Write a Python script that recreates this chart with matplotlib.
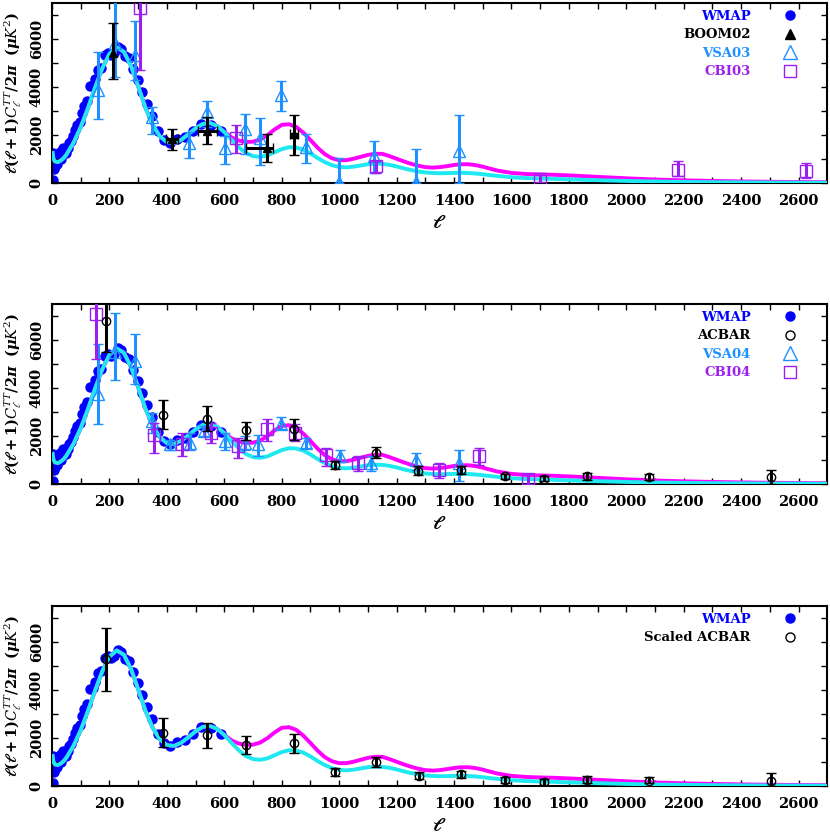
import matplotlib
matplotlib.use("Agg")
import matplotlib.pyplot as plt
from matplotlib.lines import Line2D
import numpy as np

plt.rcParams['font.family'] = 'DejaVu Serif'
plt.rcParams['mathtext.fontset'] = 'dejavuserif'

# ---- theory curves ----
l_model = [2, 5, 10, 20, 30, 40, 50, 75, 100, 125, 150, 175, 200, 225, 250, 275, 300,
           325, 350, 375, 400, 425, 450, 475, 500, 525, 550, 575, 600, 625, 650, 675,
           700, 725, 750, 775, 800, 825, 850, 875, 900, 925, 950, 975, 1000, 1025, 1050,
           1075, 1100, 1125, 1150, 1175, 1200, 1225, 1250, 1275, 1300, 1325, 1350, 1375,
           1400, 1425, 1450, 1475, 1500, 1550, 1600, 1650, 1700, 1750, 1800, 1900, 2000,
           2100, 2200, 2300, 2400, 2500, 2600, 2700]
cl_cyan = [1250, 1000, 900, 870, 930, 1030, 1180, 1680, 2330, 3120, 3980, 4780, 5380, 5650,
           5470, 4880, 4030, 3150, 2440, 1950, 1700, 1670, 1800, 2030, 2280, 2460, 2500,
           2380, 2120, 1800, 1490, 1250, 1120, 1090, 1150, 1280, 1410, 1490, 1480, 1390,
           1230, 1040, 870, 740, 670, 650, 680, 730, 780, 805, 795, 755, 690, 610, 540,
           480, 440, 415, 405, 410, 420, 425, 415, 395, 365, 295, 240, 205, 185, 170, 150,
           115, 85, 60, 45, 33, 25, 18, 14, 10]
cl_magenta = [1250, 1000, 900, 870, 930, 1030, 1180, 1680, 2330, 3120, 3980, 4780, 5380, 5650,
              5470, 4880, 4030, 3150, 2440, 1950, 1700, 1670, 1800, 2030, 2280, 2460, 2500,
              2380, 2130, 1900, 1770, 1710, 1720, 1810, 1990, 2230, 2420, 2450, 2340, 2100,
              1790, 1470, 1200, 1030, 950, 950, 1010, 1090, 1170, 1215, 1215, 1120, 1010,
              900, 800, 720, 660, 640, 660, 700, 750, 780, 780, 745, 680, 520, 420, 375,
              355, 340, 315, 255, 195, 145, 110, 85, 65, 50, 40, 32]

# ---- WMAP binned points ----
wmap_l = [2, 3, 4, 5, 6, 7, 8, 9, 10, 11, 12, 14, 16, 18, 21, 24, 27, 30, 34, 38, 43, 48,
          54, 60, 67, 74, 81, 88, 96, 104, 113, 122, 131, 141, 151, 161, 172, 183, 194,
          205, 217, 229, 241, 254, 268, 283, 298, 314, 331, 349, 369, 390, 412, 436, 462,
          490, 520, 553, 590]
wmap_cl = [123, 611, 756, 1257, 924, 1100, 600, 1000, 700, 900, 800, 950, 1000, 800, 1050,
           1100, 1300, 1000, 1300, 1450, 1350, 1250, 1450, 1650, 1750, 1950, 2200, 2400,
           2550, 2900, 3200, 3400, 4050, 4100, 4350, 4700, 4800, 5350, 5400, 5350, 5400,
           5650, 5600, 5300, 5200, 4750, 4300, 3800, 3300, 2800, 2150, 1800, 1650, 1850,
           1900, 2150, 2450, 2400, 2150]

# ---- panel 1 ----
boom_l = [213, 418, 540, 747, 843]
boom_cl = [5400, 1850, 2150, 1470, 2060]
boom_lo = [4350, 1360, 1640, 880, 1160]
boom_hi = [6660, 2240, 2740, 2030, 2850]
boom_l_lo = [213, 398, 510, 677, 828]
boom_l_hi = [213, 440, 575, 770, 858]

vsa03_l = [160, 219, 289, 347, 477, 538, 603, 671, 726, 797, 886, 999, 1123, 1268, 1416]
vsa03_cl = [3860, 5830, 5330, 2735, 1680, 2945, 1470, 2245, 1890, 3650, 1500, 30, 1120, 30, 1330]
vsa03_lo = [2665, 4400, 4280, 2060, 1050, 2340, 800, 1190, 740, 3015, 840, 0, 420, 0, 0]
vsa03_hi = [5470, 7900, 6730, 3155, 2105, 3435, 1965, 2875, 2705, 4235, 2035, 1050, 1755, 1405, 2850]

cbi03_l = [306, 640, 1129, 1700, 2179, 2625]
cbi03_cl = [7290, 1890, 700, 150, 560, 490]
cbi03_lo = [4700, 1260, 420, 20, 310, 190]
cbi03_hi = [7900, 2425, 910, 350, 910, 820]

# ---- panel 2 ----
acbar_l = [188, 387, 538, 677, 842, 984, 1127, 1276, 1423, 1578, 1712, 1863, 2078, 2503]
acbar_cl = [6790, 2870, 2690, 2240, 2300, 810, 1295, 556, 597, 320, 222, 320, 292, 278]
acbar_lo = [5500, 2270, 2200, 1850, 1825, 625, 1085, 390, 430, 210, 125, 180, 160, 0]
acbar_hi = [7900, 3480, 3245, 2590, 2690, 945, 1545, 735, 765, 430, 320, 460, 420, 570]

vsa04_l = [161, 221, 289, 347, 410, 480, 529, 603, 671, 718, 797, 883, 1002, 1112, 1268, 1417]
vsa04_cl = [3730, 5500, 5120, 2615, 1645, 1710, 2200, 1780, 1710, 1645, 2480, 1710, 1155, 880, 1015, 880]
vsa04_lo = [2480, 4330, 4150, 2130, 1430, 1435, 1990, 1435, 1435, 1155, 2270, 1500, 905, 530, 600, 110]
vsa04_hi = [5820, 7140, 6265, 2965, 1850, 2130, 2410, 2130, 1990, 2060, 2800, 1920, 1405, 1155, 1295, 1405]

cbi04_l = [153, 355, 451, 553, 648, 747, 845, 955, 1066, 1347, 1486, 1657]
cbi04_cl = [7070, 2060, 1645, 2130, 1575, 2270, 2130, 1225, 880, 600, 1155, 210]
cbi04_lo = [5190, 1295, 1155, 1710, 1085, 1780, 1780, 740, 530, 250, 805, 0]
cbi04_hi = [7900, 2550, 2130, 2550, 1920, 2690, 2480, 1505, 1155, 880, 1505, 400]

# ---- panel 3 ----
sacbar_l = [188, 387, 538, 677, 842, 984, 1127, 1278, 1423, 1578, 1712, 1863, 2078, 2503]
sacbar_cl = [5280, 2215, 2120, 1705, 1775, 595, 1010, 430, 485, 250, 165, 250, 220, 220]
sacbar_lo = [3950, 1605, 1565, 1330, 1385, 430, 805, 290, 345, 140, 40, 110, 110, 0]
sacbar_hi = [6595, 2840, 2635, 2080, 2160, 735, 1220, 595, 620, 390, 290, 415, 360, 525]

C_WMAP = '#0000ff'
C_VSA = '#1e90ff'
C_CBI = '#9b1ff0'
C_CYAN = '#1ee8f0'
C_MAG = '#ff00ff'


def yerr(cl, lo, hi):
    cl = np.array(cl)
    return [cl - np.array(lo), np.array(hi) - cl]


def draw_base(ax):
    ax.plot(wmap_l, wmap_cl, 'o', color=C_WMAP, ms=6.5, zorder=1)
    ax.plot(l_model, cl_magenta, '-', color=C_MAG, lw=2.8, zorder=2)
    ax.plot(l_model, cl_cyan, '-', color=C_CYAN, lw=2.8, zorder=3)


def errpts(ax, l, cl, lo, hi, color, marker, ms, mfc, xerr=None, z=4):
    ax.errorbar(l, cl, yerr=yerr(cl, lo, hi), xerr=xerr, fmt=marker, color=color,
                ms=ms, mfc=mfc, mec=color, mew=1.0, elinewidth=2.2, capsize=3.5,
                capthick=2.2, zorder=z)


def style(ax):
    ax.set_xlim(0, 2700)
    ax.set_ylim(0, 7500)
    ax.set_xticks(np.arange(0, 2700, 200))
    ax.set_xticks(np.arange(100, 2700, 200), minor=True)
    ax.set_yticks([0, 2000, 4000, 6000])
    ax.set_yticks([1000, 3000, 5000, 7000], minor=True)
    ax.tick_params(which='both', direction='in', top=True, right=True, length=4, width=1)
    ax.tick_params(axis='x', labelsize=10.5, pad=8)
    ax.tick_params(axis='y', labelsize=10.5, labelrotation=90, pad=6)
    for lab in ax.get_yticklabels():
        lab.set_va('center')
    for lab in ax.get_xticklabels() + ax.get_yticklabels():
        lab.set_fontweight('bold')
    for s in ax.spines.values():
        s.set_linewidth(1.5)
    ax.set_xlabel(r'$\boldsymbol{\ell}$', fontsize=14, labelpad=4)
    ax.set_ylabel(r'$\boldsymbol{\ell(\ell+1)C_\ell^{TT}/2\pi}$  $\boldsymbol{(\mu K^2)}$',
                  fontsize=10.5, labelpad=4)


def legend(ax, entries):
    handles = [Line2D([], [], ls='none', marker=m, color=c, mfc=f, mec=c, ms=s)
               for (_, c, m, f, s) in entries]
    labels = [e[0] for e in entries]
    leg = ax.legend(handles, labels, loc='upper right', markerfirst=False, frameon=False,
                    prop={'size': 9.5, 'weight': 'bold'}, handlelength=4.6,
                    handletextpad=0.7, labelspacing=0.42, borderaxespad=0.2, borderpad=0.3)
    for t, e in zip(leg.get_texts(), entries):
        t.set_color(e[1])
    return leg


fig = plt.figure(figsize=(8.3, 8.34), dpi=100)
ax1 = fig.add_axes([0.0627, 0.7806, 0.934, 0.2158])
ax2 = fig.add_axes([0.0627, 0.4197, 0.934, 0.2158])
ax3 = fig.add_axes([0.0627, 0.0576, 0.934, 0.2158])

# panel 1
draw_base(ax1)
bl = np.array(boom_l)
errpts(ax1, boom_l, boom_cl, boom_lo, boom_hi, 'black', '^', 6, 'black',
       xerr=[bl - np.array(boom_l_lo), np.array(boom_l_hi) - bl], z=6)
errpts(ax1, vsa03_l, vsa03_cl, vsa03_lo, vsa03_hi, C_VSA, '^', 9, 'none', z=4)
errpts(ax1, cbi03_l, cbi03_cl, cbi03_lo, cbi03_hi, C_CBI, 's', 8, 'none', z=5)
style(ax1)
legend(ax1, [('WMAP', C_WMAP, 'o', C_WMAP, 6.5),
             ('BOOM02', 'black', '^', 'black', 7),
             ('VSA03', C_VSA, '^', 'none', 10),
             ('CBI03', C_CBI, 's', 'none', 8.5)])

# panel 2
draw_base(ax2)
errpts(ax2, vsa04_l, vsa04_cl, vsa04_lo, vsa04_hi, C_VSA, '^', 9, 'none', z=4)
errpts(ax2, cbi04_l, cbi04_cl, cbi04_lo, cbi04_hi, C_CBI, 's', 8, 'none', z=5)
errpts(ax2, acbar_l, acbar_cl, acbar_lo, acbar_hi, 'black', 'o', 6, 'none', z=6)
style(ax2)
legend(ax2, [('WMAP', C_WMAP, 'o', C_WMAP, 6.5),
             ('ACBAR', 'black', 'o', 'none', 6.5),
             ('VSA04', C_VSA, '^', 'none', 10),
             ('CBI04', C_CBI, 's', 'none', 8.5)])

# panel 3
draw_base(ax3)
errpts(ax3, sacbar_l, sacbar_cl, sacbar_lo, sacbar_hi, 'black', 'o', 6, 'none', z=6)
style(ax3)
legend(ax3, [('WMAP', C_WMAP, 'o', C_WMAP, 6.5),
             ('Scaled ACBAR', 'black', 'o', 'none', 6.5)])

fig.savefig('out.png', dpi=100)
